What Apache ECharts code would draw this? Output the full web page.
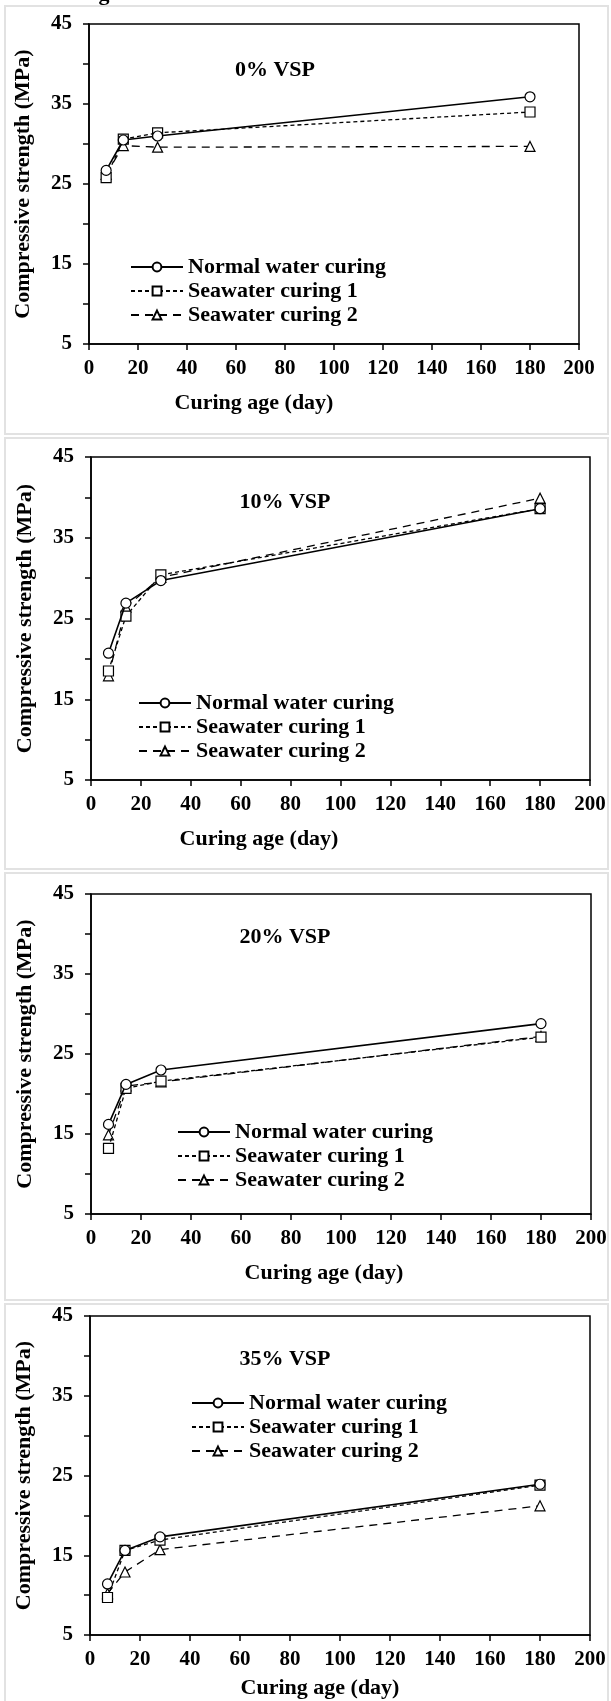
<!DOCTYPE html>
<html>
<head>
<meta charset="utf-8">
<style>
html, body { margin: 0; padding: 0; background: #fff; }
#chart { width: 611px; height: 1701px; }
</style>
<script src="https://cdn.jsdelivr.net/npm/echarts@6/dist/echarts.min.js"></script>
</head>
<body>
<div id="chart"></div>
<script>
// curing ages (day)
var days = [7, 14, 28, 180];

// compressive strength (MPa)
var normal0 = [26.7, 30.5, 31.0, 35.9];
var sea1_0 = [25.8, 30.6, 31.4, 34.0];
var sea2_0 = [26.2, 29.8, 29.6, 29.7];

var normal10 = [20.7, 26.9, 29.7, 38.6];
var sea1_10 = [18.5, 25.3, 30.4, 38.6];
var sea2_10 = [17.9, 26.4, 30.1, 39.9];

var normal20 = [16.2, 21.2, 23.0, 28.8];
var sea1_20 = [13.2, 20.7, 21.6, 27.1];
var sea2_20 = [14.9, 21.0, 21.5, 27.2];

var normal35 = [11.4, 15.6, 17.3, 23.9];
var sea1_35 = [9.7, 15.6, 16.9, 23.8];
var sea2_35 = [10.2, 12.9, 15.7, 21.2];

var panelTitles = ['0% VSP', '10% VSP', '20% VSP', '35% VSP'];
var seriesNames = ['Normal water curing', 'Seawater curing 1', 'Seawater curing 2'];
var xTicks = [0, 200, 20];      // min, max, interval
var yTicks = [5, 45, 5];
var xName = 'Curing age (day)';
var yName = 'Compressive strength (MPa)';

var panelData = [
  [normal0, sea1_0, sea2_0],
  [normal10, sea1_10, sea2_10],
  [normal20, sea1_20, sea2_20],
  [normal35, sea1_35, sea2_35]
];

// layout of each panel
var panels = [
  { grid: { left: 89, top: 24, width: 490, height: 320 }, box: [5, 6, 603, 428], title: [275, 70], legend: [130, 256], xname: [254, 403] },
  { grid: { left: 91, top: 457, width: 499, height: 323 }, box: [5, 438, 603, 431], title: [285, 502], legend: [138, 692], xname: [259, 839] },
  { grid: { left: 91, top: 894, width: 500, height: 320 }, box: [5, 873, 603, 427], title: [285, 937], legend: [177, 1121], xname: [324, 1273] },
  { grid: { left: 90, top: 1316, width: 500, height: 319 }, box: [5, 1304, 603, 420], title: [285, 1359], legend: [191, 1392], xname: [320, 1688] }
];

var FONT = '"Liberation Serif", "Times New Roman", serif';
var styles = [
  { symbol: 'circle', symbolSize: 10, lineStyle: { type: 'solid', width: 1.6 } },
  { symbol: 'rect', symbolSize: 10, lineStyle: { type: [4, 3], width: 1.3 } },
  { symbol: 'triangle', symbolSize: 10, lineStyle: { type: [8, 6], width: 1.3 } }
];

var chart = echarts.init(document.getElementById('chart'));

var grids = [], xAxes = [], yAxes = [], series = [], legends = [], graphics = [];

panels.forEach(function(p, i) {
  grids.push({
    left: p.grid.left, top: p.grid.top, width: p.grid.width, height: p.grid.height,
    show: true, borderColor: '#000', borderWidth: 1.5, backgroundColor: 'transparent'
  });
  xAxes.push({
    type: 'value', gridIndex: i, min: xTicks[0], max: xTicks[1], interval: xTicks[2],
    axisLine: { lineStyle: { color: '#000', width: 1.5 } },
    axisTick: { show: true, length: 6, lineStyle: { color: '#000', width: 1.5 } },
    axisLabel: { color: '#000', fontSize: 21, fontWeight: 'bold', fontFamily: FONT, margin: 14 },
    splitLine: { show: false }
  });
  yAxes.push({
    type: 'value', gridIndex: i, min: yTicks[0], max: yTicks[1], interval: yTicks[2],
    name: yName, nameLocation: 'middle', nameGap: 55, nameRotate: 90,
    nameTextStyle: { color: '#000', fontSize: 22, fontWeight: 'bold', fontFamily: FONT },
    axisLine: { lineStyle: { color: '#000', width: 1.5 } },
    axisTick: { show: true, length: 6, lineStyle: { color: '#000', width: 1.5 } },
    axisLabel: {
      color: '#000', fontSize: 21, fontWeight: 'bold', fontFamily: FONT, margin: 17,
      formatter: function(v) { return (v - 5) % 10 === 0 ? String(v) : ''; }
    },
    splitLine: { show: false }
  });

  panelData[i].forEach(function(vals, k) {
    series.push({
      name: seriesNames[k],
      type: 'line',
      xAxisIndex: i, yAxisIndex: i,
      data: days.map(function(d, j) { return [d, vals[j]]; }),
      symbol: styles[k].symbol,
      symbolSize: styles[k].symbolSize,
      showAllSymbol: true,
      lineStyle: { color: '#000', width: styles[k].lineStyle.width, type: styles[k].lineStyle.type },
      itemStyle: { color: '#fff', borderColor: '#000', borderWidth: 1.2 },
      emphasis: { disabled: true },
      animation: false,
      z: 3 - k
    });
  });

  legends.push({
    data: seriesNames,
    orient: 'vertical',
    left: p.legend[0], top: p.legend[1],
    padding: 0,
    itemWidth: 52, itemHeight: 11, itemGap: 2,
    selectedMode: false,
    textStyle: { color: '#000', fontSize: 22, fontWeight: 'bold', fontFamily: FONT, lineHeight: 22 }
  });

  graphics.push({
    type: 'rect', silent: true, z: -10,
    shape: { x: p.box[0], y: p.box[1], width: p.box[2], height: p.box[3] },
    style: { fill: 'none', stroke: '#e2e2e2', lineWidth: 2 }
  });
  graphics.push({
    type: 'text', x: p.title[0], y: p.title[1], silent: true,
    style: { text: panelTitles[i], fill: '#000', font: 'bold 22px ' + FONT, textAlign: 'center', textVerticalAlign: 'middle' }
  });
  graphics.push({
    type: 'text', x: p.xname[0], y: p.xname[1], silent: true,
    style: { text: xName, fill: '#000', font: 'bold 22px ' + FONT, textAlign: 'center', textVerticalAlign: 'middle' }
  });
});

// tail of a cropped caption above the first panel
graphics.push({
  type: 'text', x: 104, y: -6, silent: true,
  style: { text: 'g', fill: '#000', font: 'bold 22px ' + FONT, textAlign: 'center', textVerticalAlign: 'middle' }
});

chart.setOption({
  backgroundColor: '#fff',
  animation: false,
  grid: grids,
  xAxis: xAxes,
  yAxis: yAxes,
  legend: legends,
  series: series,
  graphic: graphics
});
</script>
</body>
</html>
